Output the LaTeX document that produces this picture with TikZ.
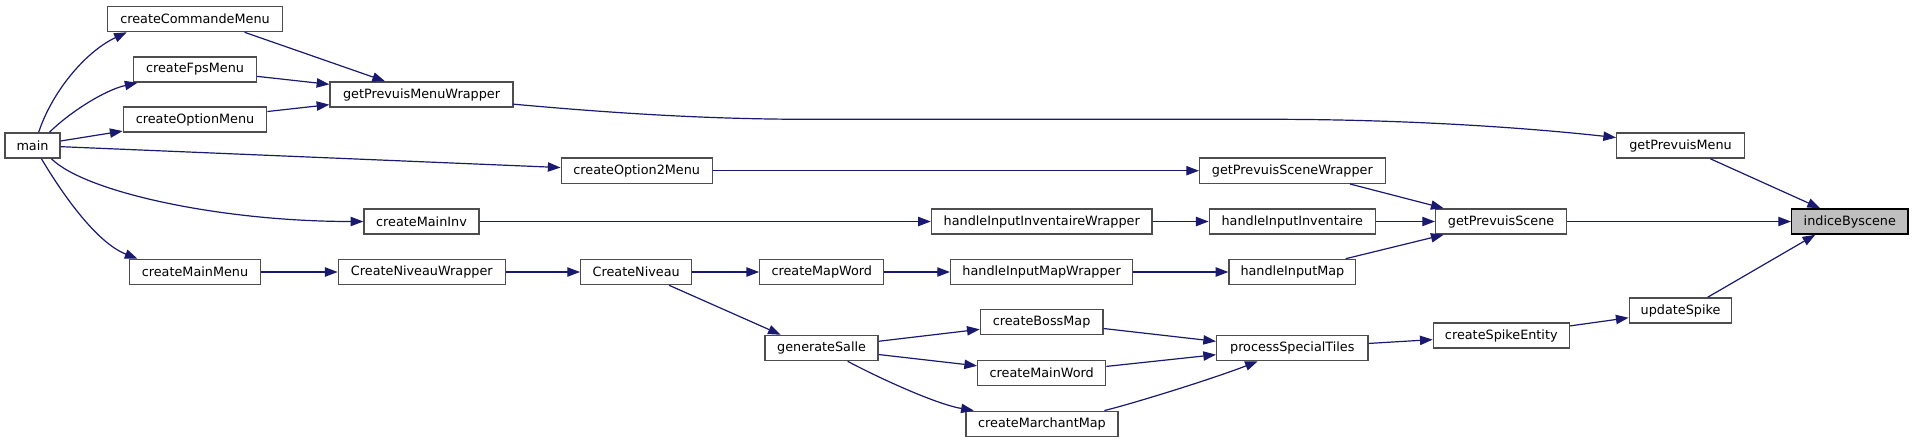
\documentclass[tikz,border=0pt]{standalone}
\usepackage{fontspec}
\setmainfont{DejaVu Sans}
\usetikzlibrary{arrows.meta}
\definecolor{edgeblue}{HTML}{191970}
\definecolor{boxgray}{HTML}{4D4D4D}
\definecolor{rootgray}{HTML}{BFBFBF}
\tikzset{
  fn/.style={draw=boxgray, fill=white, line width=1pt, inner sep=0pt,
    minimum height=18.9pt, minimum width=#1*0.75pt,
    font=\fontsize{9.6}{11}\selectfont},
  root/.style={fn=#1, draw=black, fill=rootgray},
  call/.style={draw=edgeblue, line width=0.9pt,
    -{Triangle[length=9.5pt,width=7pt]}}
}
\begin{document}
\begin{tikzpicture}[x=0.75pt, y=-0.75pt]
  \useasboundingbox (0,0) rectangle (1913,443);
  % Functions
  \node[fn=55] (main) at (32.5,145.5) {main};
  \node[fn=175] (createCommandeMenu) at (195,19) {createCommandeMenu};
  \node[fn=123] (createFpsMenu) at (195,69.5) {createFpsMenu};
  \node[fn=143.5] (createOptionMenu) at (195,119.5) {createOptionMenu};
  \node[fn=131] (createMainMenu) at (195,272) {createMainMenu};
  \node[fn=183] (getPrevuisMenuWrapper) at (421.5,94.5) {getPrevuisMenuWrapper};
  \node[fn=115] (createMainInv) at (421.5,221.5) {createMainInv};
  \node[fn=167] (CreateNiveauWrapper) at (421.8,272) {CreateNiveauWrapper};
  \node[fn=151] (createOption2Menu) at (636.7,170.7) {createOption2Menu};
  \node[fn=111] (CreateNiveau) at (636.2,272) {CreateNiveau};
  \node[fn=124] (createMapWord) at (821.8,272) {createMapWord};
  \node[fn=113] (generateSalle) at (821.6,348) {generateSalle};
  \node[fn=220.5] (handleInputInventaireWrapper) at (1041.7,221.5) {handleInputInventaireWrapper};
  \node[fn=182] (handleInputMapWrapper) at (1041.6,272) {handleInputMapWrapper};
  \node[fn=122.5] (createBossMap) at (1041.6,322) {createBossMap};
  \node[fn=128] (createMainWord) at (1041.7,373.2) {createMainWord};
  \node[fn=152] (createMarchantMap) at (1042,423.8) {createMarchantMap};
  \node[fn=185.6] (getPrevuisSceneWrapper) at (1292.4,170.7) {getPrevuisSceneWrapper};
  \node[fn=166] (handleInputInventaire) at (1292.3,221.5) {handleInputInventaire};
  \node[fn=126.7] (handleInputMap) at (1292.4,272) {handleInputMap};
  \node[fn=151.3] (processSpecialTiles) at (1292.3,348) {processSpecialTiles};
  \node[fn=131] (getPrevuisScene) at (1501.1,221.5) {getPrevuisScene};
  \node[fn=136] (createSpikeEntity) at (1501.3,335.5) {createSpikeEntity};
  \node[fn=127.6] (getPrevuisMenu) at (1680.5,145.5) {getPrevuisMenu};
  \node[fn=102.5] (updateSpike) at (1680.5,310.5) {updateSpike};
  \node[root=116.3] (indiceByscene) at (1849.8,221.5) {indiceByscene};
  % Calls from main
  \draw[call] (main.65) .. controls (52,92) and (85,52) .. (createCommandeMenu.191);
  \draw[call] (main.38) .. controls (70,112) and (105,90) .. (createFpsMenu.193);
  \draw[call] (main) -- (createOptionMenu);
  \draw[call] (main) -- (createOption2Menu);
  \draw[call] (main.-35) .. controls (85,192) and (220,221.5) .. (createMainInv.west);
  \draw[call] (main.-56) .. controls (60,190) and (95,242) .. (createMainMenu.167);
  % Menus
  \draw[call] (createCommandeMenu.345) -- (getPrevuisMenuWrapper.160);
  \draw[call] (createFpsMenu) -- (getPrevuisMenuWrapper);
  \draw[call] (createOptionMenu) -- (getPrevuisMenuWrapper);
  \draw[call] (getPrevuisMenuWrapper.354) .. controls (600,112) and (700,119.3) .. (809,119.3)
    -- (1270,119.3) .. controls (1400,119.3) and (1520,127) .. (getPrevuisMenu.173);
  \draw[call] (createOption2Menu) -- (getPrevuisSceneWrapper);
  \draw[call] (createMainInv) -- (handleInputInventaireWrapper);
  \draw[call] (handleInputInventaireWrapper) -- (handleInputInventaire);
  % Level
  \draw[call] (createMainMenu) -- (CreateNiveauWrapper);
  \draw[call] (CreateNiveauWrapper) -- (CreateNiveau);
  \draw[call] (CreateNiveau) -- (createMapWord);
  \draw[call] (CreateNiveau.338) -- (generateSalle.162);
  \draw[call] (createMapWord) -- (handleInputMapWrapper);
  \draw[call] (handleInputMapWrapper) -- (handleInputMap);
  \draw[call] (generateSalle) -- (createBossMap);
  \draw[call] (generateSalle) -- (createMainWord);
  \draw[call] (generateSalle.333) .. controls (875,376) and (935,404) .. (createMarchantMap.169);
  \draw[call] (createBossMap.354) -- (processSpecialTiles.175);
  \draw[call] (createMainWord.6) -- (processSpecialTiles.185);
  \draw[call] (createMarchantMap.12) .. controls (1135,403) and (1215,378) .. (processSpecialTiles.201);
  % Scenes
  \draw[call] (getPrevuisSceneWrapper.347) -- (getPrevuisScene.167);
  \draw[call] (handleInputInventaire) -- (getPrevuisScene);
  \draw[call] (handleInputMap.14) -- (getPrevuisScene.193);
  \draw[call] (processSpecialTiles) -- (createSpikeEntity);
  \draw[call] (createSpikeEntity) -- (updateSpike);
  \draw[call] (getPrevuisScene) -- (indiceByscene);
  \draw[call] (getPrevuisMenu.336) -- (indiceByscene.156);
  \draw[call] (updateSpike.26) -- (indiceByscene.201);
\end{tikzpicture}
\end{document}
